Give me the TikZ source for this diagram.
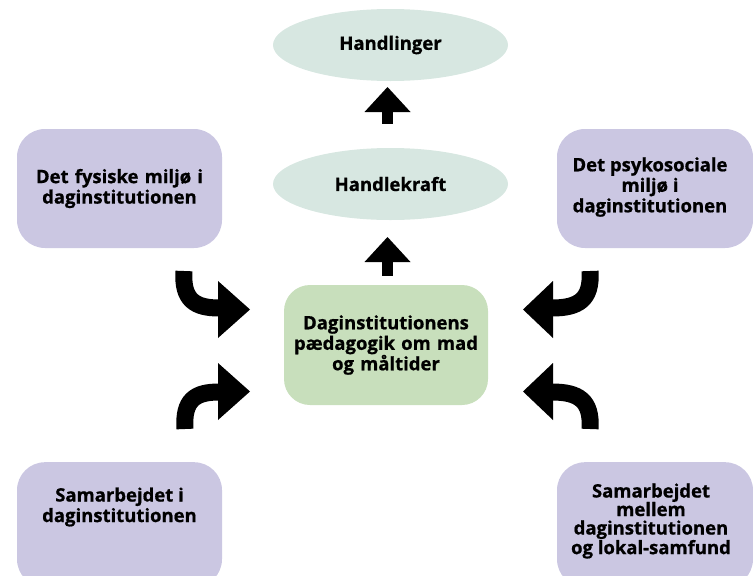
\documentclass[tikz,border=0pt]{standalone}
\usepackage{fontspec}
\setmainfont{Open Sans}[BoldFeatures={FakeBold=0.8}]
\usetikzlibrary{shapes.geometric}

\definecolor{lilla}{RGB}{203,199,226}
\definecolor{groen}{RGB}{200,223,188}
\definecolor{mint}{RGB}{215,231,225}

\tikzset{
  tekst/.style={align=center, font=\bfseries\fontsize{18.5}{20.5}\selectfont},
  ellnode/.style={tekst, ellipse, fill=mint, minimum width=235pt, minimum height=72pt, inner sep=0pt},
  lillabox/.style={tekst, rounded corners=28pt, fill=lilla, minimum width=205pt, minimum height=119pt, text width=195pt, inner sep=0pt},
  groenbox/.style={tekst, rounded corners=26pt, fill=groen, minimum width=204pt, minimum height=120pt, text width=200pt, inner sep=0pt},
  skaft/.style={line width=17pt},
}

\begin{document}
\begin{tikzpicture}[x=1pt,y=-1pt]
	\useasboundingbox (0,0) rectangle (753,576);
	% ellipser
	\node[ellnode] (handlinger) at (390.5,45) {Handlinger};
	\node[ellnode] (handlekraft) at (390.5,184) {Handlekraft};
	% midten
	\node[groenbox] (paedagogik) at (386,345) {Daginstitutionens\\pædagogik om mad\\og måltider};
	% hjoerner
	\node[lillabox] (fysisk) at (119.5,188.5) {Det fysiske miljø i\\daginstitutionen};
	\node[lillabox, minimum width=196pt] (psykosocialboks) at (655,188.5) {};
	\node[tekst] (psykosocial) at (650,187) {Det psykosociale\\miljø i\\daginstitutionen};
	\node[lillabox, anchor=north, minimum height=125pt] (samarbejdeboks) at (119.5,462) {};
	\node[tekst] (samarbejde) at (119.5,507) {Samarbejdet i\\daginstitutionen};
	\node[lillabox, anchor=north, minimum width=196pt, minimum height=125pt] (lokalboks) at (655,462) {};
	\node[tekst, font=\bfseries\fontsize{18.5}{18.5}\selectfont] (lokal) at (651,521) {Samarbejdet\\mellem\\daginstitutionen\\og lokal-samfund};
	% pile op
	\fill (364.5,112) -- (387.5,87) -- (410.5,112) -- cycle;
	\fill (382,111) rectangle (393,124);
	\fill (364.5,262) -- (387.5,237) -- (410.5,262) -- cycle;
	\fill (382,261) rectangle (393,276);
	% buede pile
	\draw[skaft] (184,271) .. controls (182,300) and (195,308) .. (219,308);
	\fill (218,281) -- (250,309.5) -- (218,338) -- cycle;
	\draw[skaft] (185,429) .. controls (183,400) and (195,392) .. (219,392);
	\fill (218,363) -- (250,391.5) -- (218,420) -- cycle;
	\draw[skaft] (590,271) .. controls (592,300) and (578,308) .. (552,308);
	\fill (553,281) -- (523,309.5) -- (553,338) -- cycle;
	\draw[skaft] (590,429) .. controls (592,400) and (578,392) .. (552,392);
	\fill (553,363) -- (523,391.5) -- (553,420) -- cycle;
\end{tikzpicture}
\end{document}
